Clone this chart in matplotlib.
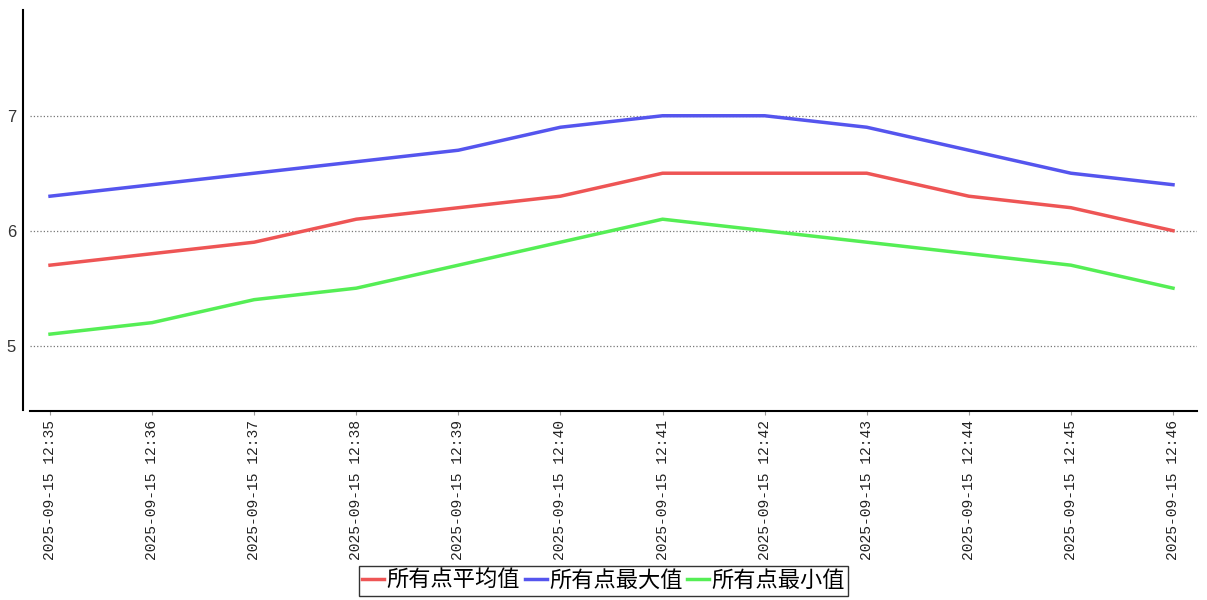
import matplotlib.pyplot as plt

plt.rcParams['font.family'] = ['Noto Sans CJK SC', 'DejaVu Sans']

times = ["2025-09-15 12:35", "2025-09-15 12:36", "2025-09-15 12:37", "2025-09-15 12:38",
         "2025-09-15 12:39", "2025-09-15 12:40", "2025-09-15 12:41", "2025-09-15 12:42",
         "2025-09-15 12:43", "2025-09-15 12:44", "2025-09-15 12:45", "2025-09-15 12:46"]
avg_vals = [5.7, 5.8, 5.9, 6.1, 6.2, 6.3, 6.5, 6.5, 6.5, 6.3, 6.2, 6.0]
max_vals = [6.3, 6.4, 6.5, 6.6, 6.7, 6.9, 7.0, 7.0, 6.9, 6.7, 6.5, 6.4]
min_vals = [5.1, 5.2, 5.4, 5.5, 5.7, 5.9, 6.1, 6.0, 5.9, 5.8, 5.7, 5.5]
series_names = ["所有点平均值", "所有点最大值", "所有点最小值"]
colors = ['#ee5555', '#5555ee', '#55ee55']

fig = plt.figure(figsize=(12.07, 6.0), dpi=100)
ax = fig.add_axes([30 / 1207, 1 - 410 / 600, 1167 / 1207, 400 / 600])

# spine placement first: set_position resets the ticks
for s in ['top', 'right']:
    ax.spines[s].set_visible(False)
ax.spines['left'].set_position(('outward', 5))
ax.spines['bottom'].set_position(('outward', 1))
ax.spines['left'].set_linewidth(1.5)
ax.spines['bottom'].set_linewidth(1.5)

x = list(range(len(times)))
for vals, name, c in zip([avg_vals, max_vals, min_vals], series_names, colors):
    ax.plot(x, vals, color=c, linewidth=2.5, label=name)

ax.set_xlim(-0.196, len(times) - 1 + 0.235)
ax.set_ylim(4.44, 7.92)
ax.tick_params(axis='y', length=0, pad=5)
ax.tick_params(axis='x', length=3, color='#999999', pad=3)
ax.set_yticks([5, 6, 7], labels=['5', '6', '7'], fontfamily='Liberation Sans',
              fontsize=12, color='#333333')
ax.set_xticks(x, labels=times, rotation=90, fontfamily='Liberation Mono',
              fontsize=10.5, color='#222222')
ax.grid(axis='y', linestyle=':', color='#777777', linewidth=0.9)

leg = fig.legend(loc='lower center', bbox_to_anchor=(0.5, 0.0), ncol=3, fontsize=16,
                 frameon=True, fancybox=False, handlelength=1.0, handletextpad=0.1,
                 columnspacing=0.2, borderpad=0.15, borderaxespad=0.2)
leg.get_frame().set_edgecolor('black')
leg.get_frame().set_linewidth(1.0)

fig.savefig('out.png', dpi=100)
